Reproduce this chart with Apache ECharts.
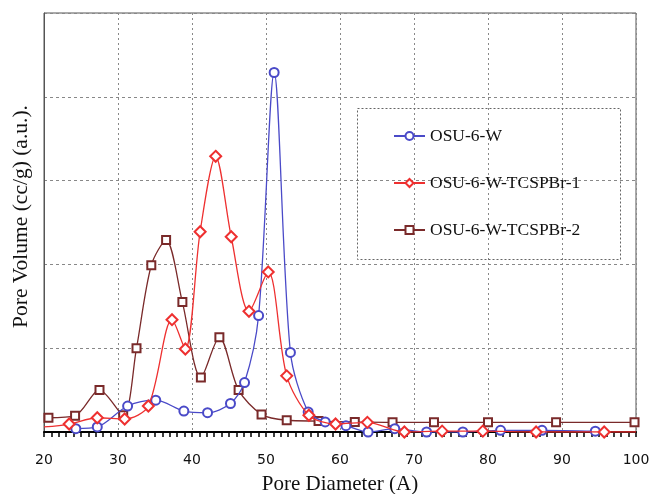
<!DOCTYPE html>
<html>
<head>
<meta charset="utf-8">
<script src="https://cdn.jsdelivr.net/npm/echarts@6/dist/echarts.min.js"></script>
<style>html,body{margin:0;padding:0;background:#fff;}#c{width:650px;height:494px;}</style>
</head>
<body>
<div id="c"></div>
<script>
var seriesNames = ['OSU-6-W', 'OSU-6-W-TCSPBr-1', 'OSU-6-W-TCSPBr-2'];
var xTicks = [20, 30, 40, 50, 60, 70, 80, 90, 100];

var osuX = [24.3, 27.2, 31.3, 35.1, 38.9, 42.1, 45.2, 47.1, 49.0, 51.1, 53.3, 55.7, 58.0, 60.8, 63.8, 67.4, 71.7, 76.6, 81.7, 87.3, 94.5];
var osuY = [0.04, 0.06, 0.31, 0.38, 0.25, 0.23, 0.34, 0.59, 1.39, 4.29, 0.95, 0.24, 0.12, 0.075, 0.0, 0.04, 0.0, 0.0, 0.02, 0.02, 0.01];

var br1X = [20.0, 23.4, 27.2, 30.9, 34.1, 37.3, 39.1, 41.1, 43.2, 45.3, 47.7, 50.3, 52.8, 55.8, 59.4, 63.7, 68.7, 73.8, 79.3, 86.5, 95.7, 100];
var br1Y = [0.06, 0.095, 0.17, 0.155, 0.31, 1.34, 0.99, 2.39, 3.29, 2.33, 1.44, 1.91, 0.67, 0.20, 0.095, 0.115, 0.0, 0.01, 0.01, 0.0, 0.0, 0.0];
var br1Marked = [false, true, true, true, true, true, true, true, true, true, true, true, true, true, true, true, true, true, true, true, true, false];

var br2X = [20.6, 24.2, 27.5, 30.7, 32.5, 34.5, 36.5, 38.7, 41.2, 43.7, 46.3, 49.4, 52.8, 57.1, 62.0, 67.1, 72.7, 80.0, 89.2, 99.8];
var br2Y = [0.17, 0.195, 0.50, 0.20, 1.0, 1.99, 2.29, 1.55, 0.65, 1.13, 0.50, 0.21, 0.14, 0.13, 0.12, 0.115, 0.115, 0.115, 0.115, 0.115];

function pairs(xs, ys, marked) {
  return xs.map(function (x, i) {
    var d = { value: [x, ys[i]] };
    if (marked && !marked[i]) d.symbol = 'none';
    return d;
  });
}

var chart = echarts.init(document.getElementById('c'), null, { renderer: 'canvas' });
var serif = '"Liberation Serif", "Times New Roman", serif';
var option = {
  backgroundColor: '#ffffff',
  animation: false,
  grid: { left: 44, right: 14, top: 13, bottom: 62, show: true, borderColor: '#555', borderWidth: 1,
          containLabel: false, outerBoundsMode: 'none' },
  xAxis: {
    type: 'value', min: 20, max: 100, interval: 10,
    name: 'Pore Diameter (A)', nameLocation: 'middle', nameGap: 42,
    nameTextStyle: { fontFamily: serif, fontSize: 21, color: '#111' },
    axisLine: { show: true, onZero: false, lineStyle: { color: '#000', width: 2 } },
    axisTick: { show: true, inside: false, length: 5, lineStyle: { color: '#000', width: 1.5 } },
    minorTick: { show: true, splitNumber: 10, length: 5, lineStyle: { color: '#000', width: 1.5 } },
    axisLabel: { margin: 21, fontFamily: '"DejaVu Sans", Verdana, sans-serif', fontSize: 14, color: '#111',
      formatter: function (v) { return xTicks.indexOf(v) >= 0 ? String(v) : ''; } },
    splitLine: { show: true, lineStyle: { color: '#888', type: [2, 3], width: 1 } }
  },
  yAxis: {
    type: 'value', min: 0, max: 5, interval: 1,
    name: 'Pore Volume (cc/g) (a.u.).', nameLocation: 'middle', nameGap: 12, nameRotate: 90,
    nameTextStyle: { fontFamily: serif, fontSize: 21.5, color: '#111', padding: [0, 0, 0, 12] },
    axisLine: { show: true, lineStyle: { color: '#555', width: 1 } },
    axisTick: { show: false },
    axisLabel: { show: false },
    splitLine: { show: true, lineStyle: { color: '#888', type: [3, 3], width: 1 } }
  },
  legend: {
    orient: 'vertical', left: 388, top: 122,
    itemWidth: 31, itemHeight: 10, itemGap: 29,
    textStyle: { fontFamily: serif, fontSize: 17.5, color: '#111' },
    data: seriesNames
  },
  graphic: [{
    type: 'rect', shape: { x: 357.5, y: 108.5, width: 263, height: 151 },
    style: { fill: 'rgba(0,0,0,0)', stroke: '#666', lineWidth: 1, lineDash: [2, 2] }, z: 10
  }],
  series: [
    {
      name: seriesNames[0], type: 'line', smooth: 0.3, clip: true,
      symbol: 'emptyCircle', symbolSize: 9,
      itemStyle: { color: '#4a4ac8', borderWidth: 1.3 },
      lineStyle: { color: '#4a4ac8', width: 1.3 },
      data: pairs(osuX, osuY), z: 3
    },
    {
      name: seriesNames[1], type: 'line', smooth: 0.3, clip: true,
      symbol: 'emptyDiamond', symbolSize: 11,
      itemStyle: { color: '#ee3030', borderWidth: 1.3 },
      lineStyle: { color: '#ee3030', width: 1.3 },
      data: pairs(br1X, br1Y, br1Marked), z: 4
    },
    {
      name: seriesNames[2], type: 'line', smooth: 0.3, clip: true,
      symbol: 'emptyRect', symbolSize: 8,
      itemStyle: { color: '#7a2a2a', borderWidth: 1.3 },
      lineStyle: { color: '#7a2a2a', width: 1.3 },
      data: pairs(br2X, br2Y), z: 2
    }
  ]
};
chart.setOption(option);
</script>
</body>
</html>
